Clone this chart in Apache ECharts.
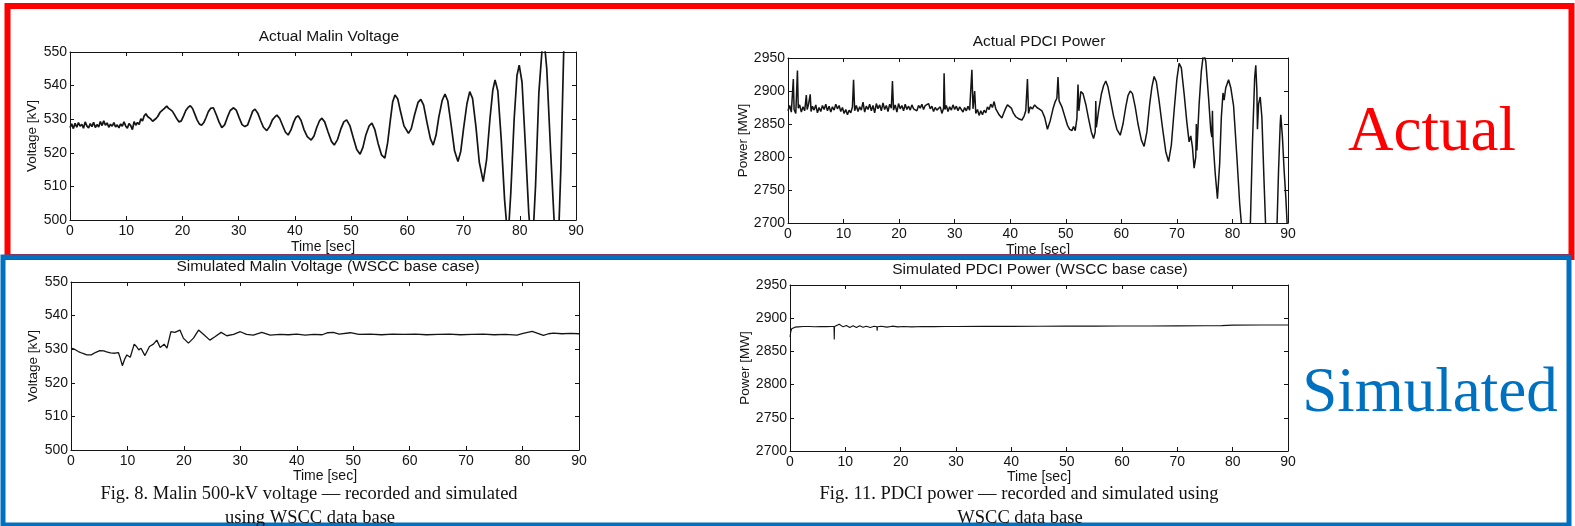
<!DOCTYPE html>
<html>
<head>
<meta charset="utf-8">
<script src="https://cdn.jsdelivr.net/npm/echarts@6/dist/echarts.min.js"></script>
<style>
html,body{margin:0;padding:0;background:#fff;}
#chart{width:1575px;height:526px;}
</style>
</head>
<body>
<div id="chart"></div>
<script>
// ---------- data (time [sec], value) ----------
const timeTicks = [0, 10, 20, 30, 40, 50, 60, 70, 80, 90];
const voltageTicks = [500, 510, 520, 530, 540, 550];
const powerTicks = [2700, 2750, 2800, 2850, 2900, 2950];

const titles = ["Actual Malin Voltage", "Actual PDCI Power",
  "Simulated Malin Voltage (WSCC base case)", "Simulated PDCI Power (WSCC base case)"];
const yNames = ["Voltage [kV]", "Power [MW]", "Voltage [kV]", "Power [MW]"];
const xName = "Time [sec]";
const captionLeft = ["Fig. 8. Malin 500-kV voltage \u2014 recorded and simulated", "using WSCC data base"];
const captionRight = ["Fig. 11. PDCI power \u2014 recorded and simulated using", "WSCC data base"];
const groupLabels = ["Actual", "Simulated"];

const malinActual = [
[0,527.5],[0.3,528.6],[0.6,527.2],[0.9,528.8],[1.2,527.6],[1.5,529],[1.8,527.9],[2.1,528.5],[2.4,527.3],[2.7,529.2],
[3,528],[3.3,527.4],[3.6,528.7],[3.9,527.8],[4.2,529.1],[4.5,527.5],[4.8,528.4],[5.1,527.7],[5.4,529.3],[5.7,528.1],
[6,529.5],[6.3,528.2],[6.6,528.9],[6.9,527.6],[7.2,528.5],[7.5,527.9],[7.8,529],[8.1,527.7],[8.4,528.3],[8.7,527.4],
[9,528.6],[9.3,527.9],[9.6,529.2],[9.9,528],[10.2,527.3],[10.5,528.7],[10.8,528.1],[11.1,526.9],[11.4,529.3],[11.7,528.2],
[12,529],[12.3,528.4],[12.6,530.1],[12.9,529.5],[13.2,531],[13.5,531.6],[13.8,530.8],[14.1,531.2],[14.4,530],[14.7,529.4],
[15,529.2],[15.3,530.2],[15.6,530.8],[16,532],[16.4,532.6],[16.8,533.2],[17.2,533.9],[17.5,533.3],[17.8,533.7],[18.2,532.4],
[18.6,531.3],[19,530.1],[19.4,529.2],[19.8,529.5],[20.2,531],[20.6,532.6],[21,533.5],[21.4,534],[21.8,533.2],[22.2,531.5],
[22.6,529.8],[23,528.6],[23.4,528.2],[23.8,529],[24.2,530.5],[24.6,532.2],[25,533.2],[25.5,533.4],[26,531.4],[26.5,529.2],
[27,527.5],[27.5,528.3],[28,530.6],[28.5,532.6],[29.1,533.4],[29.6,532.6],[30.1,530.4],[30.6,528.4],[31.1,527.8],[31.6,528.3],
[32.1,530.6],[32.5,532.4],[32.9,533],[33.4,531.8],[33.9,529.6],[34.4,527.6],[35,526.6],[35.5,527.8],[36,529.8],[36.4,530.6],
[36.8,531.2],[37.3,530.2],[37.8,528.2],[38.3,526.2],[38.8,525.3],[39.3,526.8],[39.8,529.2],[40.2,530.6],[40.6,531],[41.1,529.6],
[41.6,527],[42.2,524.8],[42.9,523.8],[43.4,525],[43.9,527.6],[44.4,529.6],[44.8,530.3],[45.3,529.2],[45.9,526.2],[46.5,523.4],
[47,522.3],[47.6,524],[48.2,527.2],[48.7,529.2],[49.2,529.8],[49.8,528],[50.4,524.4],[51,521],[51.6,519.6],[52.1,521.6],
[52.6,525.2],[53.2,528],[53.7,528.8],[54.2,527],[54.8,522.8],[55.4,519.4],[56,518.4],[56.5,523],[57,530],[57.4,535.2],
[57.8,537.2],[58.3,536],[58.8,532.2],[59.4,528],[60.2,525.8],[60.7,527.2],[61.3,531.4],[61.9,535],[62.4,535.9],[62.9,534.2],
[63.5,529],[64.1,524.2],[64.6,522.3],[65.1,525.2],[65.6,530.6],[66.2,535.6],[66.7,537.5],[67.2,535.4],[67.8,528.2],[68.4,520.6],
[69,517.4],[69.5,520.4],[70,527.2],[70.6,534.6],[71.1,538.2],[71.6,536.2],[72.2,527.8],[72.8,517.2],[73.5,511.4],[74.1,518],
[74.7,530.2],[75.2,538.6],[75.6,541.7],[76.1,538.4],[76.7,524],[77.3,506],[77.9,494],[78.4,508],[79,530],[79.5,543],
[79.9,546.1],[80.4,541],[81,522],[81.6,502],[82.2,490],[82.8,510],[83.4,538],[84.2,556],[84.8,545],[85.5,520],
[86.1,500],[86.8,490],[87.3,515],[87.9,556]
];

const pdciActual = [
[0,2870],[0.3,2878],[0.6,2868],[0.96,2918],[1.1,2872],[1.4,2866],[1.7,2931],[1.85,2874],[2.1,2879],[2.4,2868],
[2.7,2876],[3.0,2870],[3.3,2894],[3.45,2872],[3.7,2880],[4.0,2895],[4.15,2869],[4.4,2877],[4.7,2871],[5.0,2879],
[5.3,2867],[5.6,2875],[5.9,2869],[6.2,2878],[6.5,2872],[6.8,2880],[7.1,2870],[7.4,2877],[7.7,2868],[8.0,2876],
[8.3,2871],[8.6,2880],[8.9,2873],[9.2,2878],[9.5,2869],[9.8,2875],[10.1,2866],[10.4,2872],[10.7,2864],[11.0,2871],
[11.3,2867],[11.6,2876],[11.8,2917],[12.0,2870],[12.3,2878],[12.6,2869],[12.9,2876],[13.2,2871],[13.5,2883],[13.8,2868],
[14.1,2877],[14.4,2872],[14.7,2880],[15.0,2870],[15.3,2878],[15.6,2867],[15.9,2881],[16.2,2873],[16.5,2879],[16.8,2870],
[17.1,2882],[17.4,2872],[17.7,2878],[18.0,2869],[18.3,2880],[18.6,2874],[18.8,2915],[19.0,2871],[19.3,2879],[19.6,2868],
[19.9,2881],[20.2,2873],[20.5,2878],[20.8,2870],[21.1,2880],[21.4,2872],[21.7,2877],[22.0,2871],[22.3,2879],[22.6,2873],
[22.9,2876],[23.2,2870],[23.5,2878],[23.8,2874],[24.1,2880],[24.4,2872],[24.7,2878],[25.0,2875],[25.3,2881],[25.6,2873],
[25.9,2877],[26.2,2869],[26.5,2875],[26.8,2871],[27.1,2868],[27.4,2876],[27.7,2866],[28.0,2874],[28.1,2927],[28.25,2872],
[28.5,2878],[28.8,2869],[29.1,2876],[29.4,2871],[29.7,2879],[30.0,2872],[30.3,2877],[30.6,2870],[30.9,2876],[31.2,2872],
[31.5,2868],[31.8,2875],[32.1,2870],[32.4,2877],[32.7,2871],[33.1,2932],[33.3,2873],[33.6,2900],[33.8,2866],[34.1,2872],
[34.4,2863],[34.7,2870],[35.0,2864],[35.3,2871],[35.6,2867],[35.9,2876],[36.2,2872],[36.5,2880],[36.8,2875],[37.1,2884],
[37.4,2873],[37.7,2870],[38.0,2864],[38.5,2859],[38.8,2866],[39.2,2874],[39.5,2879],[39.8,2878],[40.2,2874],[40.6,2866],
[41.0,2861],[41.5,2858],[42.1,2856],[42.5,2862],[42.8,2870],[43.1,2918],[43.3,2866],[43.6,2876],[44.0,2873],[44.4,2879],
[44.8,2875],[45.2,2873],[45.7,2870],[46.2,2860],[46.7,2842],[47.2,2855],[47.7,2873],[48.1,2884],[48.4,2889],[48.6,2921],
[48.8,2885],[49.3,2876],[49.8,2862],[50.3,2848],[50.7,2842],[51.1,2840],[51.4,2846],[51.7,2840],[52.0,2858],[52.2,2910],
[52.35,2870],[52.7,2899],[53.1,2896],[53.6,2880],[54.1,2858],[54.6,2838],[55.0,2828],[55.3,2838],[55.4,2885],[55.5,2845],
[55.9,2870],[56.4,2895],[56.8,2908],[57.2,2915],[57.6,2906],[58.1,2884],[58.6,2862],[59.2,2842],[59.8,2833],[60.3,2850],
[60.8,2876],[61.2,2893],[61.6,2900],[62.0,2896],[62.5,2876],[63.0,2850],[63.6,2826],[64.1,2816],[64.6,2838],[65.1,2880],
[65.5,2906],[65.9,2922],[66.3,2914],[66.8,2885],[67.4,2845],[68.0,2808],[68.5,2793],[69.0,2818],[69.5,2870],[70.0,2918],
[70.4,2942],[70.8,2935],[71.3,2896],[71.8,2852],[72.2,2823],[72.5,2832],[72.8,2815],[73.1,2783],[73.4,2800],[73.5,2850],
[73.6,2810],[74.0,2880],[74.4,2930],[74.8,2958],[75.2,2945],[75.7,2890],[76.1,2840],[76.3,2830],[76.4,2870],[76.5,2825],
[76.9,2775],[77.3,2737],[77.7,2790],[78.0,2860],[78.3,2897],[78.5,2886],[78.8,2905],[79.3,2917],[79.7,2905],[80.2,2878],
[80.8,2800],[81.3,2730],[81.7,2690],[82.5,2650],[83.2,2690],[83.6,2820],[84.0,2920],[84.2,2939],[84.4,2900],[84.5,2842],
[84.7,2880],[85.0,2891],[85.3,2860],[85.7,2760],[86.0,2690],[87.0,2640],[88.0,2690],[88.3,2780],[88.6,2850],[88.7,2864],
[89.0,2830],[89.3,2780],[89.6,2740],[89.9,2690]
];

const malinSim = [
[0,530.3],[0.6,530],[1.3,529.3],[2.0,528.8],[2.8,528.3],[3.6,528.3],[4.3,529],[5.1,529.6],[5.8,529.5],[6.3,529.2],
[7.0,528.9],[7.8,528.8],[8.4,529],[8.7,527.5],[9.1,525.1],[9.5,527],[9.9,528.3],[10.5,527.6],[11.2,531.5],[11.6,530.8],
[12,529.8],[12.4,530.3],[13.1,528.1],[13.9,530.8],[14.6,531.5],[15.2,532.7],[15.8,530.5],[16.5,531.5],[17.0,530.3],[17.7,535.2],
[18.4,535],[19.3,535.7],[19.9,533.3],[20.8,531.8],[21.7,533.3],[22.6,535.7],[23.5,534.4],[24.6,532.7],[25.5,533.7],[26.6,535],
[27.6,534],[28.8,534.4],[30,535.2],[31.1,534.4],[32.3,534.2],[33.8,535],[35.3,534.2],[37,534.4],[38.5,534.3],[40,534.5],
[41.5,534.2],[43,534.4],[44.5,534.3],[45.5,534.9],[46.5,535],[47.5,534.5],[49.5,534.9],[51,534.4],[53,534.5],[55,534.3],
[57,534.5],[59,534.4],[61,534.5],[63,534.3],[65,534.4],[67,534.5],[69,534.3],[71,534.4],[73,534.5],[75,534.3],
[77,534.4],[79,534.2],[80.1,534.7],[81.7,535.3],[82.7,534.7],[83.7,534.1],[84.6,534.6],[85.5,534.8],[87,534.6],[88.5,534.7],
[90,534.6]
];

const pdciSim = [
[0,2872],[0.15,2880],[0.3,2884],[0.6,2886],[0.9,2886.5],[1.5,2887],[2.4,2887.5],[3.5,2887.5],[4.5,2887.2],[5.5,2887.5],
[6.5,2887.3],[7.5,2887.5],[7.95,2887.5],[8.0,2868],[8.05,2887.5],[8.3,2887.5],[8.9,2891],[9.6,2887],[10.2,2889],[10.8,2886],
[11.4,2888.5],[12.0,2886],[12.6,2888.5],[13.2,2886.5],[13.8,2888],[14.5,2886],[15.2,2888],[15.7,2887],[15.75,2881],[15.8,2887],
[16.5,2888],[17.5,2886.5],[18.5,2888],[19.5,2887],[20.5,2887.5],[22,2887],[24,2887.5],[26,2887.3],[28,2887.5],[30,2887.6],
[35,2887.8],[40,2887.7],[45,2887.8],[50,2888],[55,2888],[60,2888.2],[65,2888.3],[70,2888.5],[75,2888.7],[78,2888.8],
[80,2889.5],[85,2889.8],[90,2889.8]
];

// ---------- layout ----------
const grids = [
  {left: 70, top: 52, width: 506, height: 168},
  {left: 788, top: 58, width: 500, height: 165},
  {left: 71, top: 282, width: 508, height: 168},
  {left: 790, top: 285, width: 498, height: 166}
];
const seriesData = [malinActual, pdciActual, malinSim, pdciSim];
const yTickSets = [voltageTicks, powerTicks, voltageTicks, powerTicks];
const yNameGaps = [28, 34, 28, 34];
const xNameGaps = [20, 20, 18, 18];
const lineWidths = [1.7, 1.5, 1.3, 1.1];

const SANS = '"Liberation Sans", Arial, Helvetica, sans-serif';
const SERIF = '"Liberation Serif", "Times New Roman", serif';
const INK = '#141414';
const plain = v => String(v);

const xAxes = [], yAxes = [], series = [];
grids.forEach((g, i) => {
  const yt = yTickSets[i];
  const yMin = yt[0], yMax = yt[yt.length - 1], yInt = yt[1] - yt[0];
  const common = {
    type: 'value', gridIndex: i, splitLine: {show: false},
    axisLine: {show: true, onZero: false, lineStyle: {color: INK, width: 1}},
    axisTick: {show: true, inside: true, length: 4, lineStyle: {color: INK, width: 1}}
  };
  xAxes.push(Object.assign({}, common, {
    position: 'bottom', min: timeTicks[0], max: timeTicks[timeTicks.length - 1],
    interval: timeTicks[1] - timeTicks[0],
    axisLabel: {show: true, color: INK, fontSize: 14, fontFamily: SANS, margin: 4,
      showMinLabel: true, showMaxLabel: true, formatter: plain},
    name: xName, nameLocation: 'middle', nameGap: xNameGaps[i],
    nameTextStyle: {color: INK, fontSize: 14, fontFamily: SANS}
  }));
  xAxes.push(Object.assign({}, common, {
    position: 'top', min: timeTicks[0], max: timeTicks[timeTicks.length - 1],
    interval: timeTicks[1] - timeTicks[0], axisLabel: {show: false}
  }));
  yAxes.push(Object.assign({}, common, {
    position: 'left', min: yMin, max: yMax, interval: yInt,
    axisLabel: {show: true, color: INK, fontSize: 14, fontFamily: SANS, margin: 3,
      showMinLabel: true, showMaxLabel: true, formatter: plain},
    name: yNames[i], nameLocation: 'middle', nameGap: yNameGaps[i],
    nameTextStyle: {color: INK, fontSize: 13.5, fontFamily: SANS}
  }));
  yAxes.push(Object.assign({}, common, {
    position: 'right', min: yMin, max: yMax, interval: yInt, axisLabel: {show: false}
  }));
  series.push({
    type: 'line', xAxisIndex: 2 * i, yAxisIndex: 2 * i, data: seriesData[i],
    symbol: 'none', showSymbol: false, clip: true, smooth: false,
    lineStyle: {color: INK, width: lineWidths[i]}, silent: true
  });
});

function txt(x, y, text, font, fill, align) {
  return {type: 'text', x: x, y: y, z: 10,
    style: {text: text, font: font, fill: fill, textAlign: align || 'center', textVerticalAlign: 'middle'}};
}

const graphics = [
  {type: 'rect', z: 1, shape: {x: 7.5, y: 6, width: 1564, height: 251},
   style: {fill: 'none', stroke: '#ff0000', lineWidth: 6}},
  {type: 'rect', z: 2, shape: {x: 3, y: 257, width: 1566, height: 268},
   style: {fill: 'none', stroke: '#0070c0', lineWidth: 5}},
  txt(329, 37, titles[0], '15.5px ' + SANS, INK),
  txt(1039, 42, titles[1], '15.5px ' + SANS, INK),
  txt(328, 267, titles[2], '15.5px ' + SANS, INK),
  txt(1040, 270, titles[3], '15.5px ' + SANS, INK),
  txt(309, 494, captionLeft[0], '18.5px ' + SERIF, '#111'),
  txt(310, 518, captionLeft[1], '18.5px ' + SERIF, '#111'),
  txt(1019, 494, captionRight[0], '18.5px ' + SERIF, '#111'),
  txt(1020, 518, captionRight[1], '18.5px ' + SERIF, '#111'),
  txt(1432, 133, groupLabels[0], '63px ' + SERIF, '#ff0000'),
  txt(1430, 394, groupLabels[1], '63px ' + SERIF, '#0070c0')
];

const chart = echarts.init(document.getElementById('chart'), null, {renderer: 'canvas'});
chart.setOption({
  animation: false,
  backgroundColor: '#ffffff',
  grid: grids.map(g => Object.assign({containLabel: false}, g)),
  xAxis: xAxes,
  yAxis: yAxes,
  series: series,
  graphic: graphics
});
</script>
</body>
</html>
